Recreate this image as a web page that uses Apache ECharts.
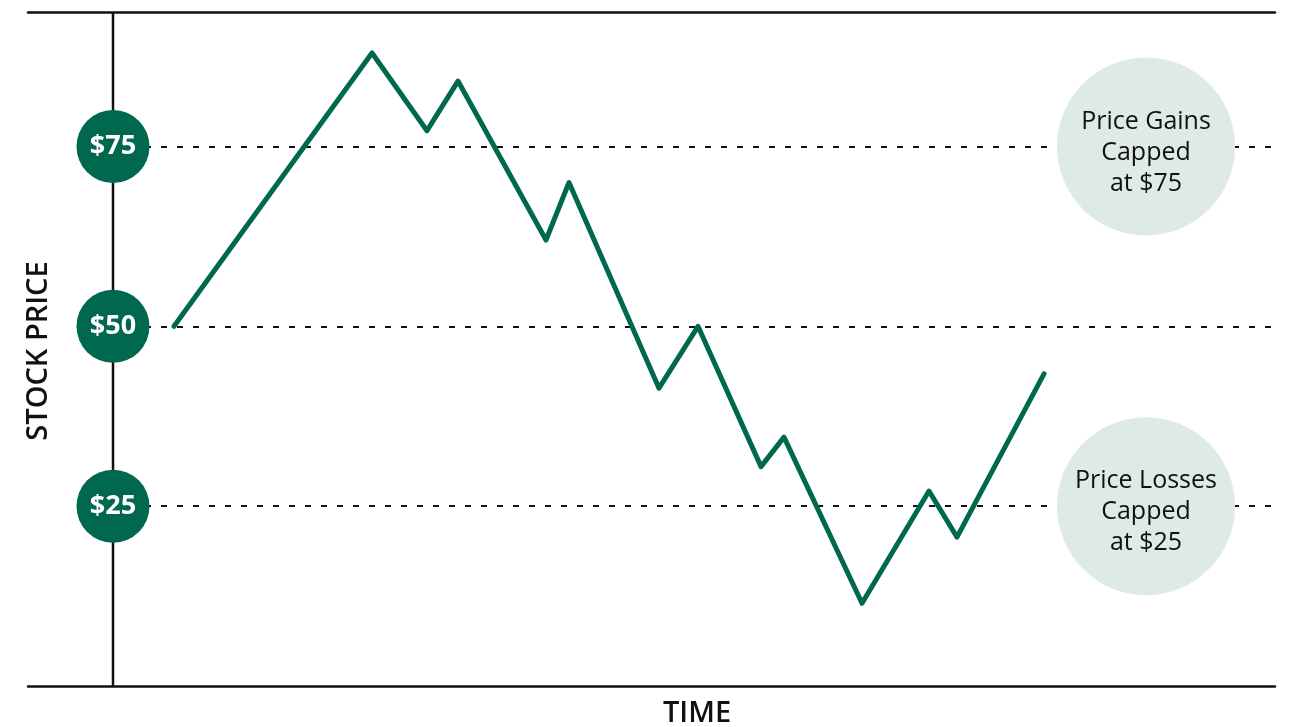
<!DOCTYPE html>
<html>
<head>
<meta charset="utf-8">
<script src="https://cdn.jsdelivr.net/npm/echarts@6/dist/echarts.min.js"></script>
<style>
html,body{margin:0;padding:0;background:#fff;}
#chart{width:1291px;height:727px;}
</style>
</head>
<body>
<div id="chart"></div>
<script>
// time (arbitrary units, axis at 0) and stock price values
const timePoints = [61, 259, 314, 345, 433, 456, 546, 585, 648, 671, 749, 816, 844, 931];
const priceValues = [50, 88.0, 77.2, 84.1, 62.0, 70.0, 41.4, 50, 30.5, 34.6, 11.5, 27.1, 20.7, 43.4];
const capLevels = [75, 50, 25];
const capLabels = ['$75', '$50', '$25'];
const noteLevels = [75, 25];
const noteTexts = ['Price Gains\nCapped\nat $75', 'Price Losses\nCapped\nat $25'];
const noteTime = 1033;
const xMin = -85, xMax = 1162;
const yMin = 0, yMax = 93.7;

const green = '#00684f';
const FONT = '"Open Sans", Lato, sans-serif';

const chart = echarts.init(document.getElementById('chart'));
chart.setOption({
  animation: false,
  grid: {left: 28, right: 16, top: 12, bottom: 41, outerBoundsMode: 'none', containLabel: false},
  xAxis: [{
    type: 'value', min: xMin, max: xMax,
    axisLine: {show: true, onZero: false, lineStyle: {color: '#111', width: 2.5}},
    axisTick: {show: false}, axisLabel: {show: false}, splitLine: {show: false}
  }, {
    type: 'value', min: xMin, max: xMax, position: 'top',
    axisLine: {show: true, onZero: false, lineStyle: {color: '#111', width: 2.5}},
    axisTick: {show: false}, axisLabel: {show: false}, splitLine: {show: false}
  }],
  yAxis: {
    type: 'value', min: yMin, max: yMax,
    axisLine: {show: false},
    axisTick: {show: false}, axisLabel: {show: false}, splitLine: {show: false}
  },
  graphic: [{
    type: 'text', x: 39, y: 351, rotation: Math.PI / 2,
    style: {text: 'STOCK PRICE', x: 0, y: 0, align: 'center', verticalAlign: 'middle',
      font: '600 29px ' + FONT, fill: '#111'}
  }, {
    type: 'text', x: 697, y: 714,
    style: {text: 'TIME', x: 0, y: 0, align: 'center', verticalAlign: 'middle',
      font: '600 29px ' + FONT, fill: '#111'}
  }],
  series: [
    {
      type: 'scatter', z: 1, symbolSize: 0, silent: true,
      data: capLevels.map(v => [0, v]),
      markLine: {
        z: 1, silent: true, symbol: 'none', label: {show: false},
        lineStyle: {color: '#111', width: 2, type: [6, 10]},
        data: capLevels.map(v => [{coord: [0, v]}, {coord: [xMax, v]}])
      }
    },
    {
      type: 'line', z: 1, symbol: 'none', silent: true,
      data: [[0, yMin], [0, yMax]],
      lineStyle: {color: '#111', width: 2.5}
    },
    {
      type: 'scatter', z: 2, symbolSize: 178, silent: true,
      itemStyle: {color: '#deeae6', opacity: 1},
      data: noteLevels.map((v, i) => ({value: [noteTime, v], label: {formatter: noteTexts[i]}})),
      label: {show: true, position: 'inside', offset: [0, 6], color: '#111', fontFamily: FONT,
        fontSize: 25, fontWeight: 500, lineHeight: 31}
    },
    {
      type: 'line', z: 3, symbol: 'none', silent: true,
      data: timePoints.map((t, i) => [t, priceValues[i]]),
      lineStyle: {color: green, width: 5, cap: 'round', join: 'round'}
    },
    {
      type: 'scatter', z: 4, symbolSize: 73, silent: true,
      itemStyle: {color: green, opacity: 1},
      data: capLevels.map((v, i) => ({value: [0, v], label: {formatter: capLabels[i]}})),
      label: {show: true, position: 'inside', color: '#fff', fontFamily: FONT,
        fontSize: 27, fontWeight: 'bold'}
    }
  ]
});
</script>
</body>
</html>
